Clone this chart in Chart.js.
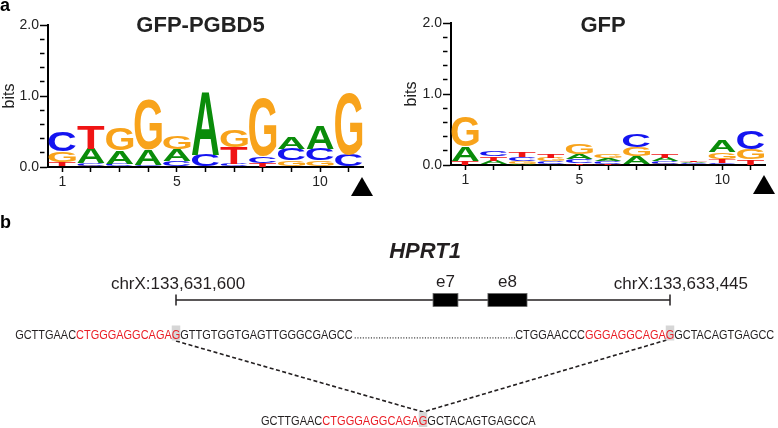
<!DOCTYPE html>
<html>
<head>
<meta charset="utf-8">
<script src="https://cdn.jsdelivr.net/npm/chart.js@4.4.0/dist/chart.umd.min.js"></script>
<style>
body{margin:0;background:#fff}
#wrap{position:relative;width:778px;height:428px;overflow:hidden}
#wrap canvas{position:absolute}
</style>
</head>
<body>
<div id="wrap">
<canvas id="logo1" width="390" height="200" style="left:0;top:0"></canvas>
<canvas id="logo2" width="388" height="200" style="left:390px;top:0"></canvas>
<canvas id="gene" width="778" height="228" style="left:0;top:200px"></canvas>
</div>
<script>
// positions on the logo x axis
const positions = ['1','2','3','4','5','6','7','8','9','10','11'];
const xLabelsShown = ['1','5','10'];
const yLabelsShown = ['0.0','1.0','2.0'];

// GFP-PGBD5 logo, bits per base
const pgbdA = [0.01,0.21,0.19,0.21,0.17,0.90,0.01,0.00,0.165,0.33,0.00];
const pgbdC = [0.27,0.03,0.03,0.02,0.07,0.17,0.03,0.10,0.16,0.16,0.17];
const pgbdG = [0.15,0.02,0.32,0.70,0.19,0.00,0.24,0.82,0.08,0.08,0.87];
const pgbdT = [0.06,0.33,0.01,0.01,0.01,0.00,0.235,0.06,0.01,0.01,0.00];

// GFP logo
const gfpA = [0.20,0.05,0.02,0.01,0.07,0.04,0.11,0.05,0.02,0.17,0.00];
const gfpC = [0.00,0.08,0.06,0.04,0.05,0.035,0.18,0.03,0.015,0.03,0.25];
const gfpG = [0.42,0.01,0.03,0.045,0.14,0.055,0.13,0.02,0.01,0.10,0.14];
const gfpT = [0.06,0.06,0.08,0.06,0.03,0.02,0.01,0.06,0.025,0.05,0.08];

// HPRT1 locus
const geneName = 'HPRT1';
const geneStart = 133631600, geneEnd = 133633445;
const exonNames = ['e7','e8'];
const exonStart = [133632560,133632765];
const exonEnd = [133632653,133632911];
const seqLeft = [['GCTTGAAC','k'],['CTGGGAGGCAGAG','r'],['GTTGTGGTGAGTTGGGCGAGCC','k']];
const seqRight = [['CTGGAACCC','k'],['GGGAGGCAGAG','r'],['GCTACAGTGAGCC','k']];
const seqJoined = [['GCTTGAAC','k'],['CTGGGAGGCAGAG','r'],['GCTACAGTGAGCCA','k']];

const letterColors = {A:'#0a8c0a',C:'#1414f0',G:'#f8a31b',T:'#f01414'};
const seqColors = {k:'#231f20',r:'#ea1d25'};
const FONT = '"Liberation Sans", Arial, sans-serif';

// stack letters smallest at bottom: one dataset per rank
let rankSets=(A,C,G,T)=>{
	const src={A:A,C:C,G:G,T:T};
	let sets=[0,1,2,3].map(()=>({data:[],letters:[],backgroundColor:'rgba(0,0,0,0)',borderWidth:0,barPercentage:0.95,categoryPercentage:1}));
	positions.forEach((p,i)=>{
		let col=['A','C','G','T'].map(l=>({l:l,v:src[l][i]})).sort((a,b)=>a.v-b.v);
		col.forEach((c,k)=>{
			sets[k].data.push(c.v);
			sets[k].letters.push(c.l);
		})
	})
	return sets;
}

let drawLetter=(ctx,L,left,top,w,h)=>{
	ctx.font='bold 100px '+FONT;
	const m=ctx.measureText(L);
	const gw=m.actualBoundingBoxLeft+m.actualBoundingBoxRight;
	const gh=m.actualBoundingBoxAscent+m.actualBoundingBoxDescent;
	ctx.save();
	ctx.translate(left,top);
	ctx.scale(w/gw,h/gh);
	ctx.fillStyle=letterColors[L];
	ctx.textAlign='left';
	ctx.textBaseline='alphabetic';
	ctx.fillText(L,m.actualBoundingBoxLeft,m.actualBoundingBoxAscent);
	ctx.restore();
}

const logoPlugin={
	id:'logo',
	afterDatasetsDraw(chart){
		const ctx=chart.ctx;
		chart.data.datasets.forEach((ds,di)=>{
			chart.getDatasetMeta(di).data.forEach((bar,i)=>{
				const p=bar.getProps(['x','y','base','width'],true);
				const h=p.base-p.y;
				if(h<0.6) return;
				drawLetter(ctx,ds.letters[i],p.x-p.width/2,p.y,p.width,h);
			})
		})
	},
	afterDraw(chart,args,opts){
		const ctx=chart.ctx, a=chart.chartArea;
		ctx.save();
		ctx.fillStyle='#222';
		ctx.textAlign='center';
		ctx.textBaseline='alphabetic';
		ctx.font='bold 22px '+FONT;
		ctx.fillText(opts.title,(a.left+a.right)/2-5,32);
		if(opts.panel){
			ctx.textAlign='left';
			ctx.font='bold 18px '+FONT;
			ctx.fillStyle='#000';
			ctx.fillText(opts.panel,0,10.5);
		}
		// cut-site marker
		ctx.fillStyle='#000';
		ctx.beginPath();
		ctx.moveTo(a.right-1,a.bottom+10);
		ctx.lineTo(a.right+10,a.bottom+29);
		ctx.lineTo(a.right-12,a.bottom+29);
		ctx.closePath();
		ctx.fill();
		ctx.restore();
	}
}

let isWhole=v=>Math.abs(v-Math.round(v))<1e-6;

let logoChart=(id,sets,title,panel,pad,yw,xh)=>{
	return new Chart(document.getElementById(id),{
		type:'bar',
		data:{labels:positions,datasets:sets},
		plugins:[logoPlugin],
		options:{
			responsive:false,
			animation:false,
			devicePixelRatio:1,
			layout:{padding:pad},
			plugins:{legend:{display:false},tooltip:{enabled:false},logo:{title:title,panel:panel}},
			scales:{
				x:{
					stacked:true,
					offset:true,
					afterFit:s=>{s.height=xh},
					border:{color:'#000',width:2},
					grid:{offset:false,drawOnChartArea:false,tickLength:5,tickColor:'#000',tickWidth:1.5},
					ticks:{autoSkip:false,maxRotation:0,padding:2,color:'#222',font:{size:14,family:FONT},
						callback:(v,i)=>xLabelsShown.includes(positions[i])?positions[i]:''}
				},
				y:{
					stacked:true,
					min:0,max:2,
					afterFit:s=>{s.width=yw},
					border:{color:'#000',width:2},
					grid:{drawOnChartArea:false,tickLength:8,tickColor:'#000',tickWidth:1.5,
						tickBorderDash:c=>isWhole(c.tick.value)?[]:[4.5,20]},
					title:{display:true,text:'bits',color:'#222',font:{size:16,family:FONT},padding:0},
					ticks:{stepSize:0.2,autoSkip:false,padding:1,color:'#222',font:{size:14,family:FONT},
						callback:v=>{
							const lab=v.toFixed(1);
							return isWhole(v)&&yLabelsShown.includes(lab)?lab:'';
						}}
				}
			}
		}
	})
}

logoChart('logo1',rankSets(pgbdA,pgbdC,pgbdG,pgbdT),'GFP-PGBD5','a',{left:0,top:25,right:27,bottom:0},48,33);
logoChart('logo2',rankSets(gfpA,gfpC,gfpG,gfpT),'GFP',null,{left:12,top:23,right:13,bottom:0},49,35);

// ---- panel b ----
const bpPerPx=(geneEnd-geneStart)/494;
const geneMid=(geneStart+geneEnd)/2;
const ROW_GENE=100, ROW_SEQ1=138.5, ROW_SEQ2=225;

let drawSeq=(ctx,segs,anchorX,base)=>{
	ctx.font='12.5px '+FONT;
	ctx.textAlign='left';
	ctx.textBaseline='alphabetic';
	const s=segs.map(d=>d[0]).join('');
	const hi=segs[0][0].length+segs[1][0].length-1;
	const pre=i=>ctx.measureText(s.slice(0,i)).width;
	const k=s.length*7.85/pre(s.length);
	const gw=pre(hi+1)-pre(hi);
	const x0=anchorX-(pre(hi)+gw/2)*k;
	ctx.fillStyle='#d6d6d6';
	ctx.fillRect(x0+pre(hi)*k,base-13,gw*k,15);
	let n=0;
	segs.forEach(d=>{
		ctx.save();
		ctx.translate(x0+pre(n)*k,base);
		ctx.scale(k,1);
		ctx.fillStyle=seqColors[d[1]];
		ctx.fillText(d[0],0,0);
		ctx.restore();
		n+=d[0].length;
	})
	return [x0,x0+pre(s.length)*k];
}

const genePlugin={
	id:'genemodel',
	afterDraw(chart){
		const ctx=chart.ctx, xs=chart.scales.x, ys=chart.scales.y;
		const gy=ys.getPixelForValue(ROW_GENE);
		const x1=xs.getPixelForValue(geneStart), x2=xs.getPixelForValue(geneEnd), xm=xs.getPixelForValue(geneMid);
		ctx.save();
		ctx.fillStyle='#000';
		ctx.textBaseline='alphabetic';
		ctx.textAlign='left';
		ctx.font='bold 18px '+FONT;
		ctx.fillText('b',0,28);
		ctx.textAlign='center';
		ctx.fillStyle='#231f20';
		ctx.font='italic bold 22px '+FONT;
		ctx.fillText(geneName,xm+2,58);
		ctx.font='17px '+FONT;
		ctx.fillText('chrX:'+geneStart.toLocaleString('en-US'),x1+2,89);
		ctx.textAlign='right';
		ctx.fillText('chrX:'+geneEnd.toLocaleString('en-US'),x2+78,89);
		ctx.textAlign='center';
		// end ticks
		ctx.strokeStyle='#231f20';
		ctx.lineWidth=1.5;
		[x1,x2].forEach(x=>{
			ctx.beginPath();ctx.moveTo(x,gy-5.5);ctx.lineTo(x,gy+5.5);ctx.stroke();
		})
		// exons
		exonNames.forEach((nm,i)=>{
			const a=xs.getPixelForValue(exonStart[i]), b=xs.getPixelForValue(exonEnd[i]);
			ctx.fillStyle='#000';
			ctx.fillRect(a,gy-6.5,b-a,13);
			ctx.strokeStyle='#666';
			ctx.lineWidth=0.8;
			ctx.strokeRect(a,gy-6.5,b-a,13);
			ctx.fillStyle='#231f20';
			ctx.font='17px '+FONT;
			ctx.fillText(nm,(a+b)/2,87);
		})
		// sequences
		const l=drawSeq(ctx,seqLeft,x1,ys.getPixelForValue(ROW_SEQ1));
		const r=drawSeq(ctx,seqRight,x2,ys.getPixelForValue(ROW_SEQ1));
		drawSeq(ctx,seqJoined,xm,ys.getPixelForValue(ROW_SEQ2));
		ctx.fillStyle='#333';
		for(let x=l[1]+2;x<r[0]-1;x+=2.7){
			ctx.fillRect(x,ys.getPixelForValue(ROW_SEQ1)-1.2,1.1,1.2);
		}
		ctx.restore();
	}
}

new Chart(document.getElementById('gene'),{
	type:'scatter',
	data:{datasets:[
		{data:[{x:geneStart,y:ROW_GENE},{x:geneEnd,y:ROW_GENE}],showLine:true,borderColor:'#231f20',borderWidth:1.5,pointRadius:0},
		{data:[{x:geneStart,y:ROW_SEQ1+2.5},{x:geneMid,y:ROW_SEQ2-13},{x:geneEnd,y:ROW_SEQ1+0.5}],showLine:true,borderColor:'#231f20',borderWidth:1.6,borderDash:[4,2.5],pointRadius:0}
	]},
	plugins:[genePlugin],
	options:{
		responsive:false,
		animation:false,
		devicePixelRatio:1,
		layout:{padding:0},
		plugins:{legend:{display:false},tooltip:{enabled:false}},
		scales:{
			x:{type:'linear',display:false,min:geneStart-176*bpPerPx,max:geneEnd+(778-670)*bpPerPx},
			y:{type:'linear',display:false,min:0,max:228,reverse:true}
		}
	}
})
</script>
</body>
</html>
